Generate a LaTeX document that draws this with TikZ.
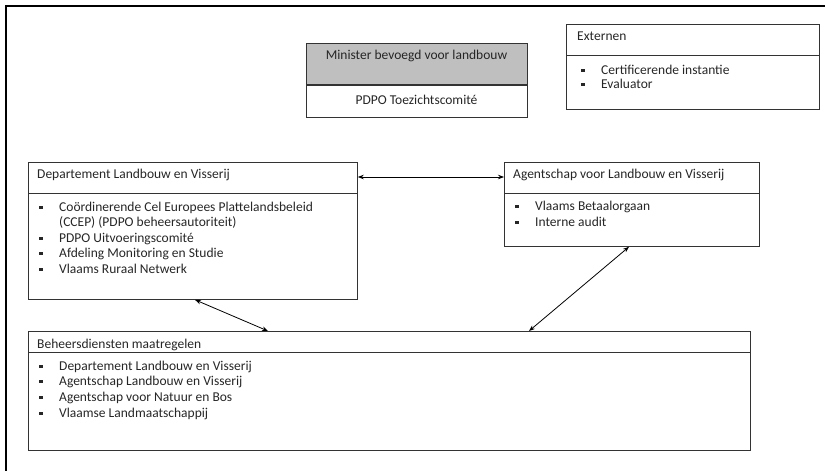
\documentclass[tikz,border=0pt]{standalone}
\usepackage{fontspec}
\setmainfont{Carlito}
\usetikzlibrary{arrows.meta,calc}
\newcommand\bul{\makebox[20pt][l]{\raisebox{2.6pt}{\rule{3.4pt}{3.4pt}}}}
\begin{document}
\begin{tikzpicture}[x=1pt,y=-1pt,
  box/.style={draw=black!80, line width=0.8pt, inner sep=0pt},
  txt/.style={font=\fontsize{13.5}{15.6}\selectfont, text=black!85, inner sep=0pt, anchor=base west},
  ctxt/.style={txt, anchor=base},
  conn/.style={{Stealth[length=6pt,width=4.5pt]}-{Stealth[length=6pt,width=4.5pt]}, line width=0.8pt}]
\useasboundingbox (0,0) rectangle (825,471);
\draw[line width=1.5pt] (6,471) -- (6,6) -- (825,6);

% Minister / PDPO
\node[box, fill=gray!50, minimum width=221pt, minimum height=41pt, anchor=north west] (min) at (306,43) {};
\node[box, minimum width=221pt, minimum height=32pt, anchor=north] (pdpo) at (min.south) {};
\node[ctxt] (mint) at (416.5,59.5) {Minister bevoegd voor landbouw};
\node[ctxt] (pdpot) at (416.5,104.5) {PDPO Toezichtscomité};

% Externen
\node[box, minimum width=253pt, minimum height=85pt, anchor=north west] (ext) at (566,24) {};
\draw[box] (ext.west |- 0,55) -- (ext.east |- 0,55);
\node[txt] (extt) at (577,40.5) {Externen};
\foreach \y/\t [count=\i] in {74.5/Certificerende instantie, 88.5/Evaluator}
  \node[txt] (ext\i) at (581,\y) {\bul\t};

% Departement
\node[box, minimum width=329pt, minimum height=137pt, anchor=north west] (dept) at (28,162) {};
\draw[box] (dept.west |- 0,193) -- (dept.east |- 0,193);
\node[txt] (deptt) at (37,178.5) {Departement Landbouw en Visserij};
\foreach \y/\t [count=\i] in {211.5/{\bul Coördinerende Cel Europees Plattelandsbeleid},
   226.5/{\hspace*{20pt}(CCEP) (PDPO beheersautoriteit)},
   242.5/{\bul PDPO Uitvoeringscomité},
   257.5/{\bul Afdeling Monitoring en Studie},
   273.5/{\bul Vlaams Ruraal Netwerk}}
  \node[txt] (dep\i) at (39,\y) {\t};

% Agentschap
\node[box, minimum width=255pt, minimum height=84pt, anchor=north west] (agt) at (504,162) {};
\draw[box] (agt.west |- 0,193) -- (agt.east |- 0,193);
\node[txt] (agtt) at (513,178.5) {Agentschap voor Landbouw en Visserij};
\foreach \y/\t [count=\i] in {210.5/Vlaams Betaalorgaan, 226.5/Interne audit}
  \node[txt] (agt\i) at (515,\y) {\bul\t};

% Beheersdiensten
\node[box, minimum width=722pt, minimum height=119pt, anchor=north west] (beh) at (28,331) {};
\draw[box] (beh.west |- 0,352) -- (beh.east |- 0,352);
\node[txt] (beht) at (37,348.5) {Beheersdiensten maatregelen};
\foreach \y/\t [count=\i] in {370.5/Departement Landbouw en Visserij, 385.5/Agentschap Landbouw en Visserij,
   401.5/Agentschap voor Natuur en Bos, 417.5/Vlaamse Landmaatschappij}
  \node[txt] (beh\i) at (39,\y) {\bul\t};

% connectors
\draw[conn] ([yshift=-15pt]dept.north east) -- ([yshift=-15pt]agt.north west);
\draw[conn] ([xshift=167pt]dept.south west) -- ([xshift=240pt]beh.north west);
\draw[conn] ([xshift=125pt]agt.south west) -- ([xshift=501pt]beh.north west);
\end{tikzpicture}
\end{document}
